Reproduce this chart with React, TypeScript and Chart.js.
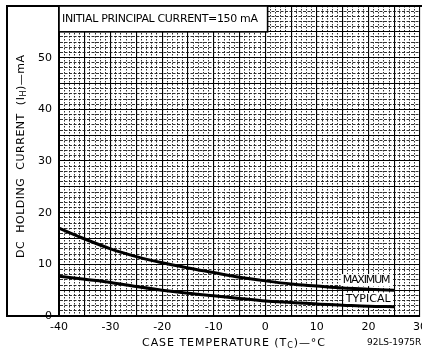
import React, { useEffect, useRef } from "react";
import { Chart, registerables } from "chart.js";

Chart.register(...registerables);

// ---- data ----
const caseTemperatures = [-40, -35, -30, -25, -20, -15, -10, -5, 0, 5, 10, 15, 20, 25];
const maximumHolding = [17.0, 14.9, 13.0, 11.5, 10.3, 9.3, 8.4, 7.5, 6.8, 6.2, 5.8, 5.4, 5.2, 5.0];
const typicalHolding = [7.7, 7.1, 6.5, 5.7, 5.0, 4.4, 3.9, 3.4, 2.9, 2.6, 2.3, 2.1, 1.9, 1.8];
const xTickValues = [-40, -30, -20, -10, 0, 10, 20, 30];
const yTickValues = [0, 10, 20, 30, 40, 50];
const seriesNames = ["MAXIMUM", "TYPICAL"];
const noteText = "INITIAL PRINCIPAL CURRENT=150 mA";
const figureCode = "92LS-1975R1";

const FONT = '"DejaVu Sans", sans-serif';

type Seg = { t: string; size: number; dy: number };

function drawSegments(ctx: CanvasRenderingContext2D, segs: Seg[], x: number, y: number, target: number) {
  let natural = 0;
  let chars = 0;
  (ctx as any).letterSpacing = "0px";
  for (const s of segs) {
    ctx.font = `${s.size}px ${FONT}`;
    natural += ctx.measureText(s.t).width;
    chars += s.t.length;
  }
  const ls = (target - natural) / Math.max(1, chars - 1);
  let cx = x;
  for (const s of segs) {
    ctx.font = `${s.size}px ${FONT}`;
    (ctx as any).letterSpacing = "0px";
    const w = ctx.measureText(s.t).width;
    (ctx as any).letterSpacing = `${ls}px`;
    ctx.fillText(s.t, cx, y + s.dy);
    cx += w + ls * s.t.length;
  }
  (ctx as any).letterSpacing = "0px";
}

const decorPlugin = {
  id: "decor",
  beforeDatasetsDraw(chart: any) {
    const { ctx, scales } = chart;
    const xs = scales.x;
    const ys = scales.y;
    const labels = [
      { text: seriesNames[0], x0: 15.0, x1: 24.3, y: 6.95 },
      { text: seriesNames[1], x0: 15.6, x1: 24.3, y: 3.3 },
    ];
    ctx.save();
    ctx.textBaseline = "middle";
    for (const l of labels) {
      const px0 = xs.getPixelForValue(l.x0);
      const px1 = xs.getPixelForValue(l.x1);
      const py = ys.getPixelForValue(l.y);
      ctx.fillStyle = "#fff";
      ctx.fillRect(px0 - 2, py - 6, px1 - px0 + 4, 12);
      ctx.fillStyle = "#000";
      drawSegments(ctx, [{ t: l.text, size: 11, dy: 0 }], px0, py + 0.5, px1 - px0);
    }
    ctx.restore();
  },
  afterDraw(chart: any) {
    const { ctx, chartArea, scales } = chart;
    const xs = scales.x;
    const ys = scales.y;
    ctx.save();
    // outer frame
    ctx.strokeStyle = "#000";
    ctx.lineWidth = 2;
    ctx.beginPath();
    ctx.moveTo(chartArea.left, chartArea.bottom);
    ctx.lineTo(7, chartArea.bottom);
    ctx.lineTo(7, chartArea.top);
    ctx.lineTo(422, chartArea.top);
    ctx.stroke();

    // note box
    const bx0 = chartArea.left;
    const bx1 = xs.getPixelForValue(0.45);
    const by0 = chartArea.top;
    const by1 = ys.getPixelForValue(55);
    ctx.fillStyle = "#fff";
    ctx.fillRect(bx0, by0, bx1 - bx0, by1 - by0);
    ctx.lineWidth = 1.6;
    ctx.strokeRect(bx0, by0, bx1 - bx0, by1 - by0);
    ctx.fillStyle = "#000";
    ctx.textBaseline = "middle";
    drawSegments(ctx, [{ t: noteText, size: 11, dy: 0 }], bx0 + 3, (by0 + by1) / 2 + 0.5, 196);

    // y title
    ctx.save();
    ctx.translate(21, 258);
    ctx.rotate(-Math.PI / 2);
    drawSegments(
      ctx,
      [
        { t: "DC  HOLDING  CURRENT  (I", size: 11, dy: 0 },
        { t: "H", size: 8, dy: 3 },
        { t: ")\u2014mA", size: 11, dy: 0 },
      ],
      0,
      0,
      203
    );
    ctx.restore();

    // x title
    drawSegments(
      ctx,
      [
        { t: "CASE TEMPERATURE (T", size: 11, dy: 0 },
        { t: "C", size: 8, dy: 3 },
        { t: ")\u2014\u00b0C", size: 11, dy: 0 },
      ],
      142,
      343,
      183
    );
    drawSegments(ctx, [{ t: figureCode, size: 9, dy: 0 }], 367, 343, 60);
    ctx.restore();
  },
};

const isMajor = (c: any) => c.tick && Math.round(c.tick.value) % 5 === 0;
const gridColor = (c: any) => (isMajor(c) ? "#000" : "#1a1a1a");
const gridWidth = (c: any) => (isMajor(c) ? 1.1 : 0.9);
const xDash = (c: any) => (isMajor(c) ? [] : [1.5, 1.5]);
const yDash = (c: any) => (isMajor(c) ? [] : [3, 1.5]);

export default function App() {
  const ref = useRef<HTMLCanvasElement | null>(null);
  useEffect(() => {
    if (!ref.current) return;
    const chart = new Chart(ref.current, {
      type: "line",
      data: {
        datasets: [
          {
            label: seriesNames[0],
            data: caseTemperatures.map((t, i) => ({ x: t, y: maximumHolding[i] })),
            borderColor: "#000",
            borderWidth: 3,
            pointRadius: 0,
            tension: 0.4,
            cubicInterpolationMode: "monotone",
            fill: false,
          },
          {
            label: seriesNames[1],
            data: caseTemperatures.map((t, i) => ({ x: t, y: typicalHolding[i] })),
            borderColor: "#000",
            borderWidth: 3,
            pointRadius: 0,
            tension: 0.4,
            cubicInterpolationMode: "monotone",
            fill: false,
          },
        ],
      },
      options: {
        responsive: false,
        animation: false,
        layout: { padding: { left: 7, top: 6, right: 2, bottom: 0 } },
        plugins: { legend: { display: false }, tooltip: { enabled: false } },
        scales: {
          x: {
            type: "linear",
            min: -40,
            max: 30,
            afterFit: (s: any) => {
              s.height = 35;
              s.paddingLeft = 0;
              s.paddingRight = 0;
            },
            ticks: {
              stepSize: 1,
              autoSkip: false,
              maxRotation: 0,
              padding: 5,
              color: "#000",
              font: { family: FONT, size: 11 },
              callback: (v: any) => (xTickValues.includes(Math.round(v)) ? String(Math.round(v)) : ""),
            },
            grid: { color: gridColor, lineWidth: gridWidth, drawTicks: false },
            border: { display: true, color: "#000", width: 2, dash: xDash },
          },
          y: {
            type: "linear",
            min: 0,
            max: 60,
            afterFit: (s: any) => {
              s.width = 52;
              s.paddingTop = 0;
              s.paddingBottom = 0;
            },
            ticks: {
              stepSize: 1,
              autoSkip: false,
              padding: 7,
              color: "#000",
              font: { family: FONT, size: 11 },
              callback: (v: any) => (yTickValues.includes(Math.round(v)) ? String(Math.round(v)) : ""),
            },
            grid: { color: gridColor, lineWidth: gridWidth, drawTicks: false },
            border: { display: true, color: "#000", width: 2, dash: yDash },
          },
        },
      },
      plugins: [decorPlugin],
    } as any);
    return () => chart.destroy();
  }, []);
  return (
    <div style={{ position: "absolute", left: 0, top: 0, width: 422, height: 351, background: "#fff" }}>
      <canvas ref={ref} width={422} height={351} style={{ display: "block" }} />
    </div>
  );
}
